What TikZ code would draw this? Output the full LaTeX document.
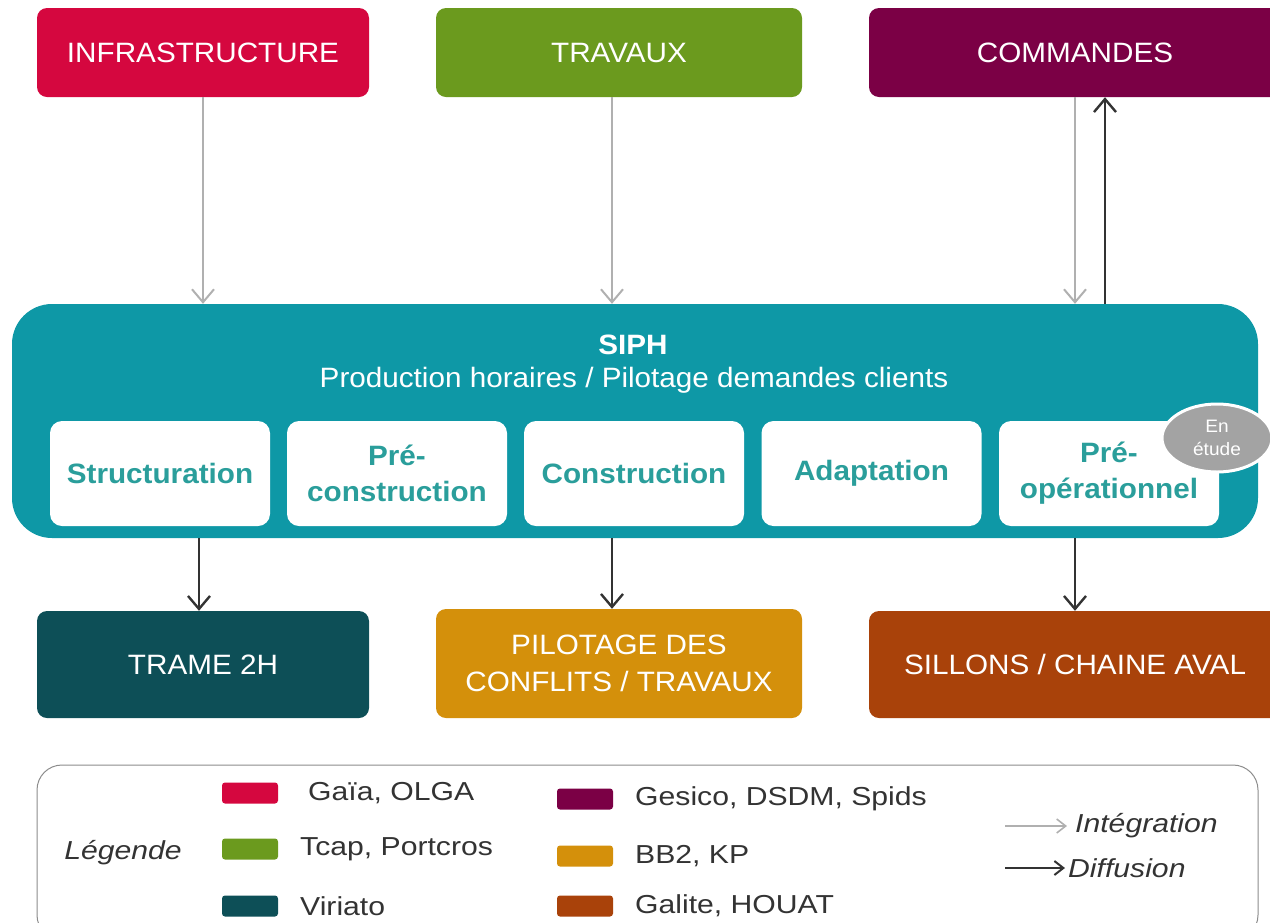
\documentclass[tikz,border=0pt]{standalone}
\usepackage{fontspec}
\setmainfont[FakeStretch=1.06]{Liberation Sans}
\newfontfamily\legfont[FakeStretch=1.16]{Liberation Sans}
\usetikzlibrary{shapes.geometric,arrows.meta}
\definecolor{cinfra}{HTML}{D5073F}
\definecolor{ctrav}{HTML}{6B9A1E}
\definecolor{ccomm}{HTML}{7B0045}
\definecolor{csiph}{HTML}{0E98A6}
\definecolor{cinner}{HTML}{2A9E9B}
\definecolor{ctrame}{HTML}{0D4F57}
\definecolor{cpilot}{HTML}{D4900B}
\definecolor{csill}{HTML}{A9420A}
\definecolor{cgrayarr}{HTML}{B0B0B0}
\definecolor{cdarkarr}{HTML}{333333}
\definecolor{cetude}{HTML}{A3A3A3}
\tikzset{
  topbox/.style={rectangle,rounded corners=10pt,minimum height=89pt,text=white,
    font=\fontsize{28}{37}\selectfont,align=center,inner sep=0pt},
  botbox/.style={rectangle,rounded corners=10pt,minimum height=107pt,text=white,
    font=\fontsize{28}{37}\selectfont,align=center,inner sep=0pt},
  innerbox/.style={rectangle,rounded corners=12pt,fill=white,minimum width=220pt,
    minimum height=105pt,text=cinner,font=\bfseries\fontsize{28}{36}\selectfont,
    align=center,inner sep=0pt},
  integ/.style={draw=cgrayarr,line width=2pt,-{Straight Barb[length=13pt,width=22pt,line width=2pt]}},
  diffu/.style={draw=cdarkarr,line width=2.4pt,-{Straight Barb[length=13pt,width=22pt,line width=2.4pt]}},
  swatch/.style={rectangle,rounded corners=3pt,minimum width=56pt,minimum height=21pt,inner sep=0pt},
  legtext/.style={anchor=west,font=\legfont\fontsize{26}{30}\selectfont,text=black!80,inner sep=0pt},
}
\begin{document}
\begin{tikzpicture}[x=1pt,y=-1pt]
\useasboundingbox (0,0) rectangle (1270,922);
\begin{scope}
\clip (0,0) rectangle (1270,922);
% top boxes
\node[topbox,fill=cinfra,minimum width=332pt] (infra) at (203,52.5) {INFRASTRUCTURE};
\node[topbox,fill=ctrav,minimum width=366pt] (trav) at (619,52.5) {TRAVAUX};
\node[topbox,fill=ccomm,minimum width=412pt] (comm) at (1075,52.5) {COMMANDES};
% SIPH
\node[rectangle,rounded corners=40pt,fill=csiph,minimum width=1246pt,minimum height=234pt,inner sep=0pt] (siph) at (635,421) {};
\node[text=white,font=\bfseries\fontsize{28}{30}\selectfont,inner sep=0pt] (siphtitle) at (633,345) {SIPH};
\node[text=white,font=\fontsize{28}{30}\selectfont,inner sep=0pt] (siphsub) at (634,380) {Production horaires / Pilotage demandes clients};
\node[innerbox] (struct) at (160,473.5) {Structuration};
\node[innerbox] (precons) at (397,473.5) {Pré-\\construction};
\node[innerbox] (cons) at (634,473.5) {Construction};
\node[innerbox] (adapt) at (871.5,473.5) {Adaptation};
\node[innerbox] (preop) at (1109,473.5) {Pré-\\opérationnel};
\node[ellipse,fill=cetude,draw=white,line width=3pt,minimum width=110pt,minimum height=68pt,
  inner sep=0pt,text=white,align=center,font=\fontsize{18}{23}\selectfont] (etude) at (1217,438) {En\\étude};
% bottom boxes
\node[botbox,fill=ctrame,minimum width=332pt] (trame) at (203,664.5) {TRAME 2H};
\node[botbox,fill=cpilot,minimum width=366pt,minimum height=109pt] (pilot) at (619,663.5) {PILOTAGE DES\\CONFLITS / TRAVAUX};
\node[botbox,fill=csill,minimum width=412pt] (sill) at (1075,664.5) {SILLONS / CHAINE AVAL};
% arrows
\draw[integ] (infra.south) -- (infra.south |- siph.north);
\draw[integ] ([xshift=-7pt]trav.south) -- ([xshift=-7pt]trav.south |- siph.north);
\draw[integ] (comm.south) -- (comm.south |- siph.north);
\draw[diffu] ([xshift=30pt]comm.south |- siph.north) -- ([xshift=30pt]comm.south);
\draw[diffu] ([xshift=-4pt]trame.north |- siph.south) -- ([xshift=-4pt]trame.north);
\draw[diffu] ([xshift=-7pt]pilot.north |- siph.south) -- ([xshift=-7pt]pilot.north);
\draw[diffu] (sill.north |- siph.south) -- (sill.north);
% legend
\node[rectangle,rounded corners=25pt,draw=black!45,line width=1pt,minimum width=1221pt,
  minimum height=175pt,inner sep=0pt] (legend) at (647.5,852.5) {};
\node[anchor=center,font=\legfont\itshape\fontsize{26}{30}\selectfont,text=black!80,inner sep=0pt] (legtitle) at (123,853) {Légende};
\node[swatch,fill=cinfra] (s1) at (250,793) {};
\node[swatch,fill=ctrav] (s2) at (250,849) {};
\node[swatch,fill=ctrame] (s3) at (250,906) {};
\node[swatch,fill=ccomm] (s4) at (585,799) {};
\node[swatch,fill=cpilot] (s5) at (585,856) {};
\node[swatch,fill=csill] (s6) at (585,906) {};
\node[legtext] (t1) at (308,793) {Gaïa, OLGA};
\node[legtext] (t2) at (300,849) {Tcap, Portcros};
\node[legtext] (t3) at (300,906) {Viriato};
\node[legtext] (t4) at (635,799) {Gesico, DSDM, Spids};
\node[legtext] (t5) at (635,856) {BB2, KP};
\node[legtext] (t6) at (635,906) {Galite, HOUAT};
\node[legtext,font=\legfont\itshape\fontsize{26}{30}\selectfont] (tint) at (1075,826) {Intégration};
\node[legtext,font=\legfont\itshape\fontsize{26}{30}\selectfont] (tdif) at (1068,868) {Diffusion};
\coordinate (ai) at (1005,826);
\coordinate (ad) at (1005,868);
\draw[integ,line width=1.6pt,-{Straight Barb[length=9pt,width=14pt,line width=1.6pt]}] (ai) -- ([xshift=-8pt]tint.west);
\draw[diffu,line width=2pt,-{Straight Barb[length=9pt,width=14pt,line width=2pt]}] (ad) -- ([xshift=-3pt]tdif.west);
\end{scope}
\end{tikzpicture}
\end{document}
